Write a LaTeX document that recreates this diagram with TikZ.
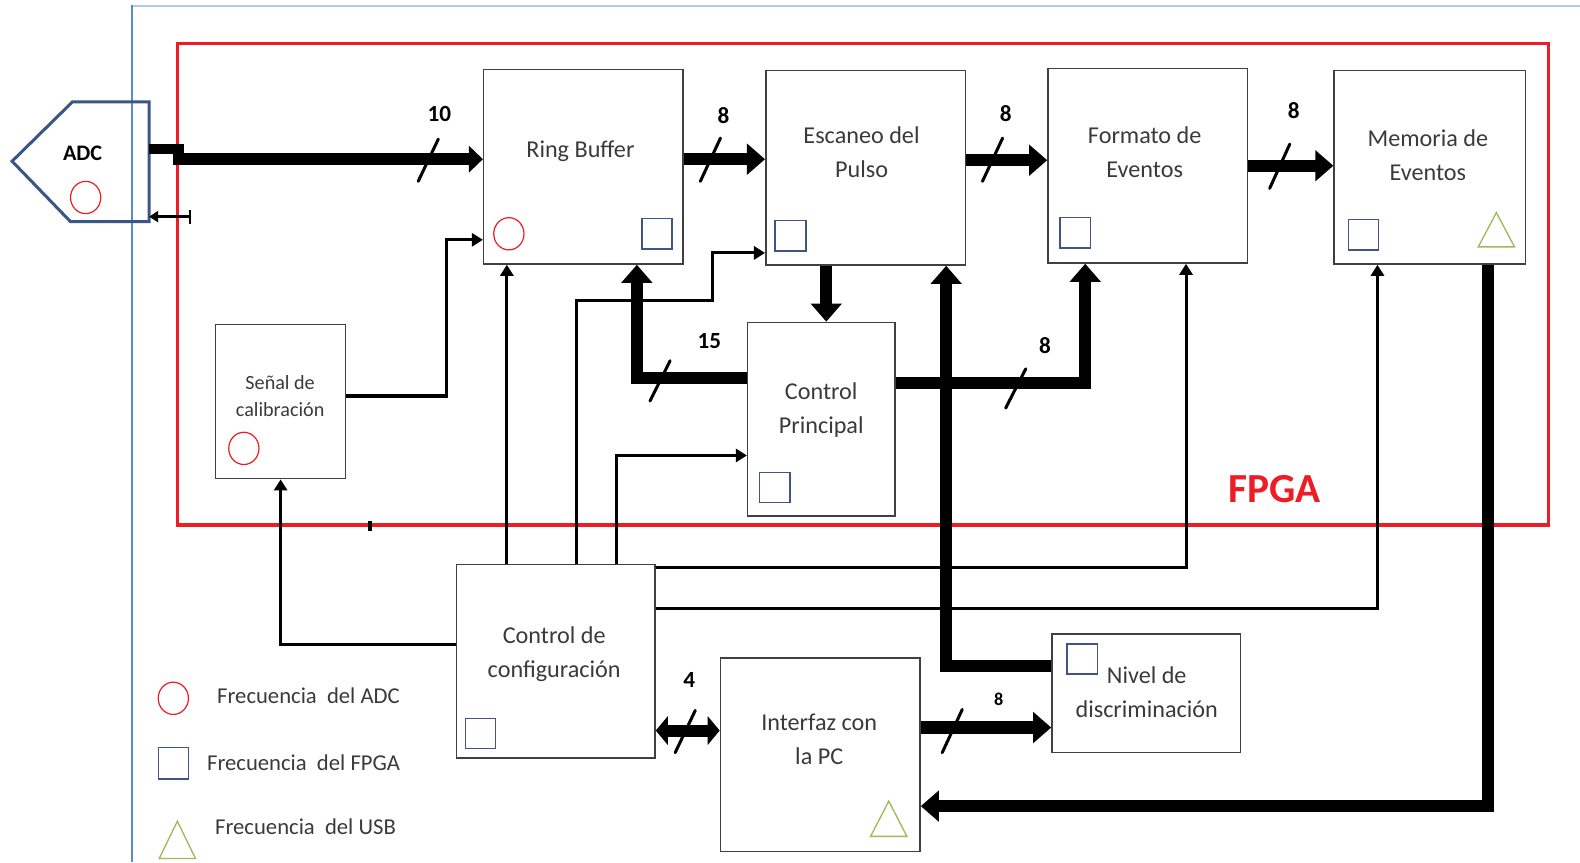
\documentclass[tikz,border=0pt]{standalone}
\usepackage{fontspec}
\setmainfont{Carlito}
\usetikzlibrary{arrows.meta,calc}
\definecolor{boxc}{HTML}{404040}
\definecolor{txtc}{HTML}{3A3A3A}
\definecolor{fpgared}{HTML}{EE1C24}
\definecolor{adcblue}{HTML}{3A5685}
\definecolor{sqblue}{HTML}{3F5487}
\definecolor{usbgreen}{HTML}{9BBB59}
\definecolor{frameblue}{HTML}{5B8ACB}
\definecolor{frametop}{HTML}{B4C8E4}
\begin{document}
\begin{tikzpicture}[x=1pt,y=-1pt,
  blk/.style={draw=boxc, line width=1.5pt, inner sep=0pt},
  txt/.style={text=txtc, font=\fontsize{24}{34}\selectfont, align=center},
  lbl/.style={text=black, font=\bfseries\fontsize{23}{25}\selectfont},
  bus/.style={line width=12pt, line join=miter, -{Triangle[length=18pt,width=30pt]}},
  sig/.style={line width=3pt, line join=miter, -{Triangle[length=11pt,width=13pt]}},
  slash/.style={line width=3pt, line cap=round},
  adcclk/.style={draw=fpgared, line width=1.2pt},
  fpgaclk/.style={draw=sqblue, line width=1.3pt},
  usbclk/.style={draw=usbgreen, line width=1.3pt},
  legtxt/.style={text=txtc, anchor=west, font=\fontsize{22.5}{24}\selectfont},
]
\useasboundingbox (0,0) rectangle (1568,855.5);

% outer frame
\draw[frametop, line width=2pt] (131,6) -- (1568,6);
\draw[frameblue, line width=2pt] (131,5) -- (131,855.5);

% FPGA region
\draw[fpgared, line width=3pt] (176,43) rectangle (1537,521);
\node[text=fpgared, font=\bfseries\fontsize{41}{44}\selectfont] (fpgalbl) at (1265,485) {FPGA};
\draw[black, line width=4pt] (367,517) -- (367,527);

% ADC
\draw[adcblue, line width=3pt, line join=miter] (12,160) -- (72,101) -- (148,101) -- (148,220) -- (70,220) -- cycle;
\node[text=black, font=\bfseries\fontsize{22}{24}\selectfont] (adc) at (82,152) {ADC};
\draw[adcclk] (85,196) ellipse (15pt and 16pt);
\coordinate (adcE) at (148,148);
\coordinate (adcC) at (148,215);
\coordinate (clkS) at (190,215);

% blocks
\node[blk, minimum width=198pt, minimum height=193pt] (rb)   at (579,165.5) {};
\node[blk, minimum width=198pt, minimum height=193pt] (esc)  at (859,166.5) {};
\node[blk, minimum width=198pt, minimum height=193pt] (form) at (1139,164.5) {};
\node[blk, minimum width=190pt, minimum height=192pt] (mem)  at (1419,166) {};
\node[blk, minimum width=146pt, minimum height=192pt] (cp)   at (815,416) {};
\node[blk, minimum width=129pt, minimum height=153pt] (sen)  at (278.5,398.5) {};
\node[blk, minimum width=197pt, minimum height=192pt] (cfg)  at (551.5,656) {};
\node[blk, minimum width=198pt, minimum height=192pt] (intf) at (814,749) {};
\node[blk, minimum width=187pt, minimum height=118pt] (niv)  at (1137.5,688) {};

% block texts
\node[txt] (rbT)   at (576,150) {Ring Buffer};
\node[txt] (escT)  at (855,151) {Escaneo del\\Pulso};
\node[txt] (formT) at (1136,151) {Formato de\\Eventos};
\node[txt] (memT)  at (1417,154) {Memoria de\\Eventos};
\node[txt] (cpT)   at (815,407) {Control\\Principal};
\node[txt, font=\fontsize{20}{27}\selectfont] (senT) at (278,393) {Señal de\\calibración};
\node[txt] (cfgT)  at (550,649) {Control de\\configuración};
\node[txt] (intfT) at (813,734) {Interfaz con\\la PC};
\node[txt] (nivT)  at (1138,687) {Nivel de\\discriminación};

% clock markers
\draw[adcclk] (505,232) ellipse (15pt and 16pt);
\draw[adcclk] (242,445) ellipse (15pt and 16pt);
\draw[fpgaclk] (637,217) rectangle (667,247);
\draw[fpgaclk] (769,219) rectangle (800,249);
\draw[fpgaclk] (1052,216) rectangle (1082,246);
\draw[fpgaclk] (1338,218) rectangle (1368,248);
\draw[fpgaclk] (754,469) rectangle (784,499);
\draw[fpgaclk] (462,713) rectangle (492,743);
\draw[fpgaclk] (1059,639) rectangle (1089,669);
\draw[usbclk] (1467,245) -- (1485,211) -- (1503,245) -- cycle;
\draw[usbclk] (864,830) -- (882,795) -- (900,830) -- cycle;

% legend
\draw[adcclk] (172,693) ellipse (15pt and 16pt);
\node[legtxt] (legA) at (212,690) {Frecuencia\ \ del ADC};
\draw[fpgaclk] (157,742) rectangle (187,773);
\node[legtxt] (legF) at (202,757) {Frecuencia\ \ del FPGA};
\draw[usbclk] (158,852) -- (176,815) -- (194,852) -- cycle;
\node[legtxt] (legU) at (210,820) {Frecuencia\ \ del USB};

% ADC -> Ring Buffer
\draw[line width=10pt, line join=miter] (adcE) -- (178,148) -- (178,158);
\draw[line width=12pt, -{Triangle[length=14pt,width=26pt]}] (172,158) -- ([yshift=7.5pt]rb.west);
\draw[slash] (415,180) -- (435,138);
\node[lbl] (l10) at (436,113) {10};
% clock back to ADC
\draw[line width=2.5pt, {Triangle[length=9pt,width=11pt]}-{Bar[width=14pt]}] (adcC) -- (clkS);

% top chain
\draw[bus] ([yshift=7.5pt]rb.east) -- ([yshift=7.5pt]rb.east -| esc.west);
\draw[slash] (695,180) -- (715,137);
\node[lbl] (l8a) at (718,115) {8};
\draw[bus] ([yshift=7.5pt]esc.east) -- ([yshift=7.5pt]esc.east -| form.west);
\draw[slash] (975,180) -- (995,137);
\node[lbl] (l8b) at (998,113) {8};
\draw[bus] (form.east) -- (form.east -| mem.west);
\draw[slash] (1260,187) -- (1280,143);
\node[lbl] (l8c) at (1284,110) {8};

% Escaneo -> Control Principal
\draw[bus] ([xshift=-39pt]esc.south) -- ([xshift=-39pt]esc.south |- cp.north);

% Control Principal -> Ring Buffer
\draw[bus] ([yshift=41pt]cp.west) -| ([xshift=53pt]rb.south);
\draw[slash] (645,398) -- (665,358);
\node[lbl] (l15) at (704,338) {15};

% Control Principal -> Formato
\draw[bus] ([yshift=36pt]cp.east) -| ([xshift=-62pt]form.south);
\draw[slash] (998,405) -- (1018,366);
\node[lbl] (l8d) at (1037,343) {8};

% Nivel -> Escaneo
\draw[bus] ([yshift=27pt]niv.west) -| ([xshift=80pt]esc.south);

% Senal -> Ring Buffer
\draw[sig] ([yshift=5.5pt]sen.east) -- (443,393) |- ([yshift=-72.5pt]rb.west);

% Config connections
\draw[sig] ([xshift=-48.5pt]cfg.north) -- ([xshift=-48.5pt]cfg.north |- rb.south);
\draw[sig] ([xshift=20.5pt]cfg.north) -- (572,298) -- (707,298) |- ([yshift=-84.5pt]esc.west);
\draw[sig] ([xshift=60.5pt]cfg.north) |- ([yshift=-36pt]cp.west);
\draw[sig] ([yshift=93pt]cfg.east) -| ([xshift=38pt]form.south);
\draw[sig] ([yshift=52pt]cfg.east) -| ([xshift=-52pt]mem.south);
\draw[sig] ([yshift=16pt]cfg.west) -| (sen.south);

% Config <-> Interfaz
\draw[line width=12pt, {Triangle[length=12pt,width=28pt]}-{Triangle[length=12pt,width=28pt]}] ([yshift=-69pt]cfg.east) -- ([yshift=-69pt]cfg.east -| intf.west);
\draw[slash] (670,747) -- (690,705);
\node[lbl] (l4) at (684,675) {4};

% Interfaz -> Nivel
\draw[bus] ([yshift=27pt]intf.east) -- ([yshift=27pt]intf.east -| niv.west);
\draw[slash] (935,747) -- (955,704);
\node[lbl, font=\bfseries\fontsize{18}{20}\selectfont] (l8e) at (991,694) {8};

% Memoria -> Interfaz
\draw[bus] ([xshift=58pt]mem.south) |- ([yshift=-51pt]intf.east);
\end{tikzpicture}
\end{document}
